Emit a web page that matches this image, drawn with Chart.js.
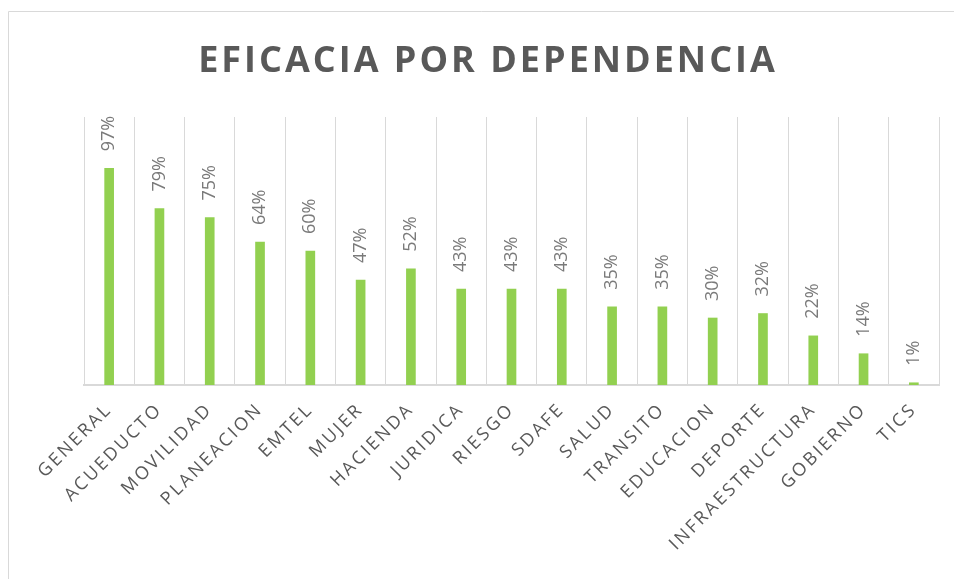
<!DOCTYPE html>
<html>
<head>
<meta charset="utf-8">
<script src="https://cdn.jsdelivr.net/npm/chart.js@4"></script>
<style>
  html, body { margin: 0; padding: 0; background: #fff; }
  #wrap { position: relative; width: 954px; height: 579px; }
</style>
</head>
<body>
<div id="wrap"><canvas id="eficaciaChart" width="954" height="579"></canvas></div>
<script>
// Datos
const dependencias = ['GENERAL', 'ACUEDUCTO', 'MOVILIDAD', 'PLANEACION', 'EMTEL', 'MUJER', 'HACIENDA',
    'JURIDICA', 'RIESGO', 'SDAFE', 'SALUD', 'TRANSITO', 'EDUCACION', 'DEPORTE', 'INFRAESTRUCTURA',
    'GOBIERNO', 'TICS'];
const eficacia = [0.97, 0.79, 0.75, 0.64, 0.60, 0.47, 0.52, 0.43, 0.43, 0.43, 0.35, 0.35, 0.30, 0.32,
    0.22, 0.14, 0.01];
const titulo = 'EFICACIA POR DEPENDENCIA';

// Marco, título y espaciado de letras
const marcoPlugin = {
    id: 'marco',
    beforeDraw(chart) {
        const ctx = chart.ctx;
        ctx.save();
        ctx.strokeStyle = '#d9d9d9';
        ctx.lineWidth = 1;
        ctx.beginPath();
        ctx.moveTo(8.5, 579);
        ctx.lineTo(8.5, 11.5);
        ctx.lineTo(954, 11.5);
        ctx.stroke();
        ctx.restore();
        ctx.letterSpacing = '2.5px'; // etiquetas del eje X
    },
    afterDraw(chart) {
        const ctx = chart.ctx;
        ctx.save();
        ctx.letterSpacing = '3px';
        ctx.font = 'bold 36px "Open Sans", sans-serif';
        ctx.fillStyle = '#595959';
        ctx.textAlign = 'center';
        ctx.textBaseline = 'alphabetic';
        ctx.fillText(titulo, 488, 72);
        ctx.restore();
    }
};

// Etiquetas de porcentaje giradas sobre cada barra
const etiquetasPlugin = {
    id: 'etiquetas',
    afterDatasetsDraw(chart) {
        const ctx = chart.ctx;
        const meta = chart.getDatasetMeta(0);
        ctx.save();
        ctx.letterSpacing = '0px';
        ctx.font = '18px "Open Sans", sans-serif';
        ctx.fillStyle = '#7a7a7a';
        ctx.textAlign = 'left';
        ctx.textBaseline = 'middle';
        meta.data.forEach(function(bar, i) {
            ctx.save();
            ctx.translate(bar.x, bar.y - 17);
            ctx.rotate(-Math.PI / 2);
            ctx.fillText(Math.round(eficacia[i] * 100) + '%', 0, 0);
            ctx.restore();
        });
        ctx.restore();
    }
};

const ctx = document.getElementById('eficaciaChart').getContext('2d');
new Chart(ctx, {
    type: 'bar',
    data: {
        labels: dependencias,
        datasets: [{
            label: 'Eficacia',
            data: eficacia,
            backgroundColor: '#92d050',
            borderWidth: 0,
            barThickness: 9
        }]
    },
    options: {
        responsive: false,
        animation: false,
        layout: { padding: { left: 84, right: 15, top: 117, bottom: 0 } },
        plugins: { legend: { display: false }, tooltip: { enabled: false } },
        scales: {
            x: {
                grid: { color: '#d9d9d9', lineWidth: 1, drawTicks: false, offset: true },
                border: { color: '#d9d9d9', width: 2 },
                ticks: {
                    autoSkip: false,
                    minRotation: 45,
                    maxRotation: 45,
                    padding: 14,
                    color: '#595959',
                    font: { family: '"Open Sans", sans-serif', size: 18 }
                },
                afterFit(scale) { scale.height = 194; }
            },
            y: {
                display: false,
                min: 0,
                max: 1.2
            }
        }
    },
    plugins: [marcoPlugin, etiquetasPlugin]
});
</script>
</body>
</html>
